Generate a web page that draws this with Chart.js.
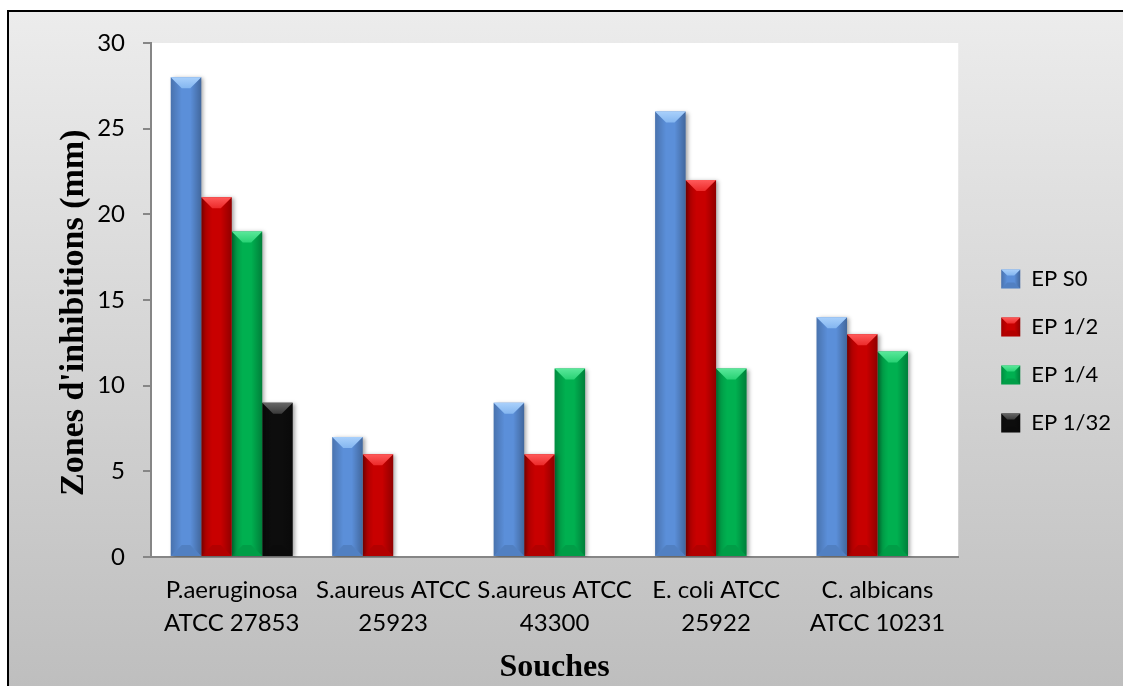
<!DOCTYPE html>
<html lang="fr">
<head>
<meta charset="utf-8">
<title>Zones d'inhibitions</title>
<script src="https://cdn.jsdelivr.net/npm/chart.js@4.4.1/dist/chart.umd.min.js"></script>
<style>
  html, body { margin: 0; padding: 0; background: #fff; overflow: hidden; }
  #frame {
    position: absolute; left: 7px; top: 10px; width: 1200px; height: 760px;
    border: 2px solid #000;
    background: linear-gradient(to bottom, #ececec 0px, #bebebe 676px, #bebebe 100%);
  }
  #wrap { position: absolute; left: 0; top: 0; width: 1123px; height: 686px; }
</style>
</head>
<body>
<div id="frame"></div>
<div id="wrap"><canvas id="inhibitionChart" width="1123" height="686"></canvas></div>
<script>
// Souches testées (two-line axis labels)
const categories = [
    ['P.aeruginosa', 'ATCC 27853'],
    ['S.aureus ATCC', '25923'],
    ['S.aureus ATCC', '43300'],
    ['E. coli ATCC', '25922'],
    ['C. albicans', 'ATCC 10231']
];

const seriesNames = ['EP S0', 'EP 1/2', 'EP 1/4', 'EP 1/32'];

// Zones d'inhibition in mm
const epS0 = [28, 7, 9, 26, 14];
const ep1_2 = [21, 6, 6, 22, 13];
const ep1_4 = [19, null, 11, 11, 12];
const ep1_32 = [9, null, null, null, null];

const yTicks = [0, 5, 10, 15, 20, 25, 30];

// Base fill plus the lighter top face used for the bevel
const shades = [
    { base: '#5b8fd9', top: '#a9d0fb', topLow: '#84b6f0' },
    { base: '#c80000', top: '#ff5a5a', topLow: '#ec2a2a' },
    { base: '#00b050', top: '#5ae89a', topLow: '#28d274' },
    { base: '#0d0d0d', top: '#666666', topLow: '#3a3a3a' }
];

function poly(ctx, pts) {
    ctx.beginPath();
    ctx.moveTo(pts[0][0], pts[0][1]);
    for (let i = 1; i < pts.length; i++) ctx.lineTo(pts[i][0], pts[i][1]);
    ctx.closePath();
    ctx.fill();
}

// Draw the "soft bevel" faces over an already filled rectangle
function drawBevel(ctx, l, t, r, b, shade, depth) {
    const d = Math.max(0, Math.min(depth, (r - l) / 2 - 1, (b - t) / 2));
    if (!d) return;

    let g = ctx.createLinearGradient(l, 0, l + d, 0);
    g.addColorStop(0, 'rgba(0,0,0,0.20)');
    g.addColorStop(1, 'rgba(0,0,0,0)');
    ctx.fillStyle = g;
    poly(ctx, [[l, t], [l + d, t + d], [l + d, b - d], [l, b]]);

    g = ctx.createLinearGradient(r, 0, r - d, 0);
    g.addColorStop(0, 'rgba(0,0,0,0.28)');
    g.addColorStop(1, 'rgba(0,0,0,0)');
    ctx.fillStyle = g;
    poly(ctx, [[r, t], [r - d, t + d], [r - d, b - d], [r, b]]);

    ctx.fillStyle = 'rgba(0,0,0,0.10)';
    poly(ctx, [[l, b], [l + d, b - d], [r - d, b - d], [r, b]]);

    g = ctx.createLinearGradient(0, t, 0, t + d);
    g.addColorStop(0, shade.top);
    g.addColorStop(1, shade.topLow);
    ctx.fillStyle = g;
    poly(ctx, [[l, t], [r, t], [r - d, t + d], [l + d, t + d]]);
}

// White plot area on top of the grey page gradient
const plotBackground = {
    id: 'plotBackground',
    beforeDraw(chart) {
        const { ctx, chartArea: a } = chart;
        ctx.save();
        ctx.fillStyle = '#fff';
        ctx.fillRect(a.left, a.top, a.right - a.left, a.bottom - a.top);
        ctx.restore();
    }
};

const barShadow = {
    id: 'barShadow',
    beforeDatasetDraw(chart) {
        const ctx = chart.ctx;
        ctx.save();
        ctx.shadowColor = 'rgba(0,0,0,0.35)';
        ctx.shadowBlur = 4;
        ctx.shadowOffsetX = 2;
        ctx.shadowOffsetY = 1;
    },
    afterDatasetDraw(chart) {
        chart.ctx.restore();
    }
};

const barBevel = {
    id: 'barBevel',
    afterDatasetsDraw(chart) {
        const ctx = chart.ctx;
        ctx.save();
        chart.data.datasets.forEach((ds, i) => {
            const meta = chart.getDatasetMeta(i);
            meta.data.forEach((bar, j) => {
                if (ds.data[j] == null) return;
                const { x, y, base, width } = bar.getProps(['x', 'y', 'base', 'width'], true);
                drawBevel(ctx, x - width / 2, y, x + width / 2, base, shades[i], 11);
            });
        });
        ctx.restore();
    },
    afterDraw(chart) {
        const ctx = chart.ctx;
        const legend = chart.legend;
        if (!legend || !legend.legendHitBoxes) return;
        ctx.save();
        legend.legendHitBoxes.forEach((hb, i) => {
            const top = hb.top + 1.5;
            drawBevel(ctx, hb.left, top, hb.left + 19, top + 19, shades[i], 6);
        });
        ctx.restore();
    }
};

const serifBold = { family: "'Times New Roman', 'Liberation Serif', serif", size: 34, weight: 'bold' };
const tickFont = { family: 'Lato', size: 24, lineHeight: 1.375 };

function initChart() {
    const ctx = document.getElementById('inhibitionChart').getContext('2d');
    const series = [epS0, ep1_2, ep1_4, ep1_32];

    new Chart(ctx, {
        type: 'bar',
        data: {
            labels: categories,
            datasets: series.map((values, i) => ({
                label: seriesNames[i],
                data: values,
                backgroundColor: shades[i].base,
                borderWidth: 0
            }))
        },
        options: {
            responsive: false,
            animation: false,
            layout: { padding: { top: 43, right: 2, bottom: 27, left: 0 } },
            datasets: {
                bar: { categoryPercentage: 0.755, barPercentage: 1 }
            },
            plugins: {
                legend: {
                    position: 'right',
                    labels: {
                        boxWidth: 19,
                        boxHeight: 19,
                        padding: 26,
                        color: '#000',
                        font: { family: 'Lato', size: 22 }
                    }
                },
                tooltip: { enabled: false }
            },
            scales: {
                x: {
                    grid: { display: false, drawTicks: false },
                    border: { display: true, color: '#868686', width: 2 },
                    ticks: { color: '#000', font: tickFont, padding: 17, maxRotation: 0, autoSkip: false },
                    title: {
                        display: true,
                        text: 'Souches',
                        color: '#000',
                        font: { ...serifBold, size: 32 },
                        padding: { top: 0, bottom: -28 }
                    },
                    afterFit(scale) { scale.height = 102; }
                },
                y: {
                    min: 0,
                    max: 30,
                    afterBuildTicks(scale) { scale.ticks = yTicks.map(v => ({ value: v })); },
                    ticks: { color: '#000', font: tickFont, padding: 18 },
                    grid: { drawOnChartArea: false, drawTicks: true, tickLength: 8, color: '#868686', lineWidth: 2 },
                    border: { color: '#868686', width: 2 },
                    title: {
                        display: true,
                        // trailing spaces push the rotated title a little lower
                        text: "Zones d'inhibitions (mm)   ",
                        color: '#000',
                        font: serifBold,
                        padding: { top: 54, bottom: 0 }
                    },
                    afterFit(scale) { scale.width = 151; }
                },
                // empty strip between the plot area and the legend
                gap: {
                    type: 'linear',
                    position: 'right',
                    display: true,
                    grid: { display: false, drawTicks: false },
                    border: { display: false },
                    ticks: { display: false },
                    afterFit(scale) { scale.width = 17; }
                }
            }
        },
        plugins: [plotBackground, barShadow, barBevel]
    });
}

document.addEventListener('DOMContentLoaded', initChart);
</script>
</body>
</html>
